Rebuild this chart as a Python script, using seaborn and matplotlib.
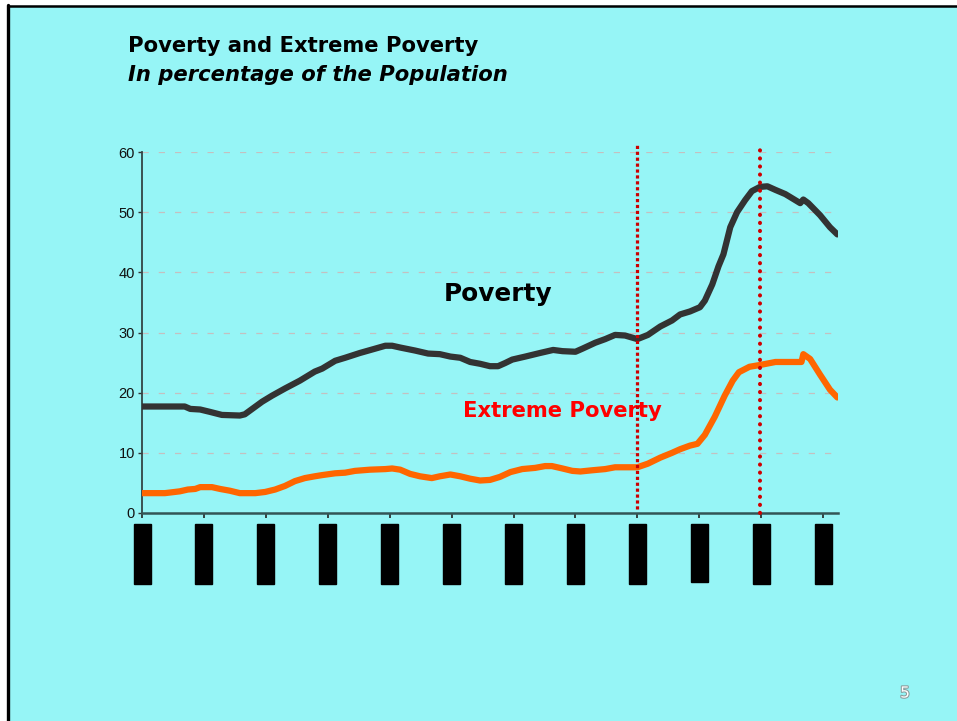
import numpy as np
import pandas as pd
import seaborn as sns
import matplotlib.pyplot as plt
import matplotlib.patheffects as pe
from matplotlib.lines import Line2D
from matplotlib.transforms import blended_transform_factory
from matplotlib.patches import Rectangle

# x positions in tick units (tick labels in the original are blacked out)
poverty_x = [0.00, 0.69, 0.78, 0.94, 1.10, 1.29, 1.58, 1.66, 1.74, 1.94, 2.10, 2.31,
             2.55, 2.79, 2.91, 3.12, 3.28, 3.52, 3.76, 3.93, 4.04, 4.17, 4.41, 4.62,
             4.81, 4.98, 5.14, 5.30, 5.46, 5.62, 5.75, 5.86, 5.98, 6.19, 6.43, 6.64,
             6.79, 7.00, 7.11, 7.32, 7.48, 7.64, 7.80, 8.00, 8.17, 8.37, 8.56, 8.69,
             8.85, 9.01, 9.09, 9.21, 9.31, 9.39, 9.50, 9.61, 9.74, 9.85, 9.98, 10.10,
             10.23, 10.39, 10.55, 10.63, 10.68, 10.76, 10.95, 11.11, 11.23]
poverty = [17.7, 17.7, 17.3, 17.2, 16.8, 16.3, 16.2, 16.4, 17.0, 18.5, 19.5, 20.7,
           22.0, 23.5, 24.0, 25.3, 25.8, 26.6, 27.3, 27.8, 27.8, 27.5, 27.0, 26.5,
           26.4, 26.0, 25.8, 25.1, 24.8, 24.4, 24.4, 24.9, 25.5, 26.0, 26.6, 27.1,
           26.9, 26.8, 27.3, 28.3, 28.9, 29.6, 29.5, 28.9, 29.6, 31.0, 32.0, 33.0,
           33.5, 34.2, 35.3, 38.0, 41.0, 43.0, 47.5, 50.0, 52.0, 53.5, 54.2, 54.3,
           53.7, 53.0, 52.0, 51.5, 52.1, 51.5, 49.5, 47.5, 46.3]

extreme_x = [0.00, 0.37, 0.61, 0.74, 0.86, 0.94, 1.13, 1.26, 1.42, 1.58, 1.83, 1.99,
             2.15, 2.31, 2.47, 2.63, 2.79, 2.91, 3.12, 3.28, 3.44, 3.68, 3.93, 4.04,
             4.17, 4.33, 4.49, 4.68, 4.81, 4.98, 5.14, 5.30, 5.46, 5.62, 5.78, 5.95,
             6.14, 6.35, 6.51, 6.62, 6.79, 6.95, 7.08, 7.27, 7.48, 7.64, 7.80, 8.00,
             8.17, 8.37, 8.56, 8.69, 8.85, 8.97, 9.09, 9.25, 9.41, 9.54, 9.64, 9.81,
             9.98, 10.23, 10.47, 10.65, 10.68, 10.79, 10.95, 11.11, 11.23]
extreme = [3.3, 3.3, 3.6, 3.9, 4.0, 4.3, 4.3, 4.0, 3.7, 3.3, 3.3, 3.5,
           3.9, 4.5, 5.3, 5.8, 6.1, 6.3, 6.6, 6.7, 7.0, 7.2, 7.3, 7.4,
           7.2, 6.5, 6.1, 5.8, 6.1, 6.4, 6.1, 5.7, 5.4, 5.5, 6.0, 6.8,
           7.3, 7.5, 7.8, 7.8, 7.4, 7.0, 6.9, 7.1, 7.3, 7.6, 7.6, 7.6,
           8.2, 9.2, 10.0, 10.6, 11.2, 11.5, 13.0, 16.0, 19.5, 22.0, 23.4, 24.3,
           24.6, 25.1, 25.1, 25.1, 26.4, 25.6, 23.0, 20.5, 19.2]

tick_pos = list(range(12))
event_lines = [8.0, 9.98]
y_ticks = [0, 10, 20, 30, 40, 50, 60]

bg = "#96F5F6"

sns.set_style("ticks", {"axes.facecolor": bg, "figure.facecolor": "white",
                        "text.color": "black", "ytick.color": "black"})
plt.rcParams["font.family"] = ["DejaVu Sans"]

fig = plt.figure(figsize=(9.57, 7.21), dpi=100)

# slide background with black border on top and left
fig.add_artist(Rectangle((8.5 / 957, 0), 1, (721 - 5.5) / 721,
                         transform=fig.transFigure, color=bg, zorder=-10))
fig.add_artist(Line2D([8 / 957, 8 / 957], [0, (721 - 5) / 721], color="black", lw=2.4,
                      transform=fig.transFigure))
fig.add_artist(Line2D([8 / 957, 1], [(721 - 5.5) / 721, (721 - 5.5) / 721], color="black",
                      lw=1.8, transform=fig.transFigure))

ax = fig.add_axes([142 / 957, (721 - 513) / 721, (838 - 142) / 957, (513 - 152) / 721])

dp = pd.DataFrame({"x": poverty_x, "y": poverty})
de = pd.DataFrame({"x": extreme_x, "y": extreme})
sns.lineplot(data=dp, x="x", y="y", ax=ax, sort=False, color="#333333", lw=4.5,
             solid_capstyle="round", solid_joinstyle="round", zorder=4)
sns.lineplot(data=de, x="x", y="y", ax=ax, sort=False, color="#FF6600", lw=4.5,
             solid_capstyle="round", solid_joinstyle="round", zorder=4)

ax.set_xlim(0, 11.24)
ax.set_ylim(0, 60)
ax.set_yticks(y_ticks)
ax.set_xticks(tick_pos)
ax.set_xticklabels([])
ax.set_xlabel("")
ax.set_ylabel("")
for t in ax.get_yticklabels():
    t.set_fontfamily("Liberation Sans")
    t.set_fontsize(10.5)
    t.set_color("#111111")
ax.tick_params(axis="y", length=3, width=1, color="#333333", pad=2)
ax.tick_params(axis="x", length=3.5, width=1.2, color="#222222")
for gy in y_ticks[1:]:
    ax.axhline(gy, color="#C4C0C0", lw=0.9, dashes=(5, 8), zorder=1)
sns.despine(ax=ax)
ax.spines["left"].set_color("#334444")
ax.spines["bottom"].set_color("#335555")
ax.spines["left"].set_linewidth(1.3)
ax.spines["bottom"].set_linewidth(1.8)

# event markers
ax.axvline(event_lines[0], ymin=0.01, ymax=1.02, color="#CC0000", lw=2.3,
           dashes=(1, 0.85), clip_on=False, zorder=5)
ax.axvline(event_lines[1], ymin=0.0, ymax=1.02, color="#D00000", lw=2.9,
           dashes=(0.05, 1.95), dash_capstyle="round", clip_on=False, zorder=5)

# blacked-out year labels
tr = blended_transform_factory(ax.transData, fig.transFigure)
for i, p in enumerate(tick_pos):
    h = 58 if i == 9 else 60
    ax.add_patch(Rectangle((p - 0.137, (721 - 524 - h) / 721), 0.275, h / 721,
                           transform=tr, color="black", clip_on=False))

ax.text(5.75, 36.4, "Poverty", fontsize=17.8, fontweight="bold", color="black",
        ha="center", va="center")
ax.text(6.79, 16.9, "Extreme Poverty", fontsize=15.2, fontweight="bold", color="#FF0000",
        ha="center", va="center", zorder=3)

fig.text(128 / 957, (721 - 52) / 721, "Poverty and Extreme Poverty", fontsize=15.2,
         fontweight="bold", color="black", ha="left", va="baseline")
fig.text(128 / 957, (721 - 81) / 721, "In percentage of the Population", fontsize=15.2,
         fontweight="bold", style="italic", color="black", ha="left", va="baseline")
fig.text(905 / 957, (721 - 693) / 721, "5", fontsize=11, color="white", ha="center",
         va="center", path_effects=[pe.withStroke(linewidth=1.5, foreground="#8A9A9A")])

fig.savefig("out.png", dpi=100)
